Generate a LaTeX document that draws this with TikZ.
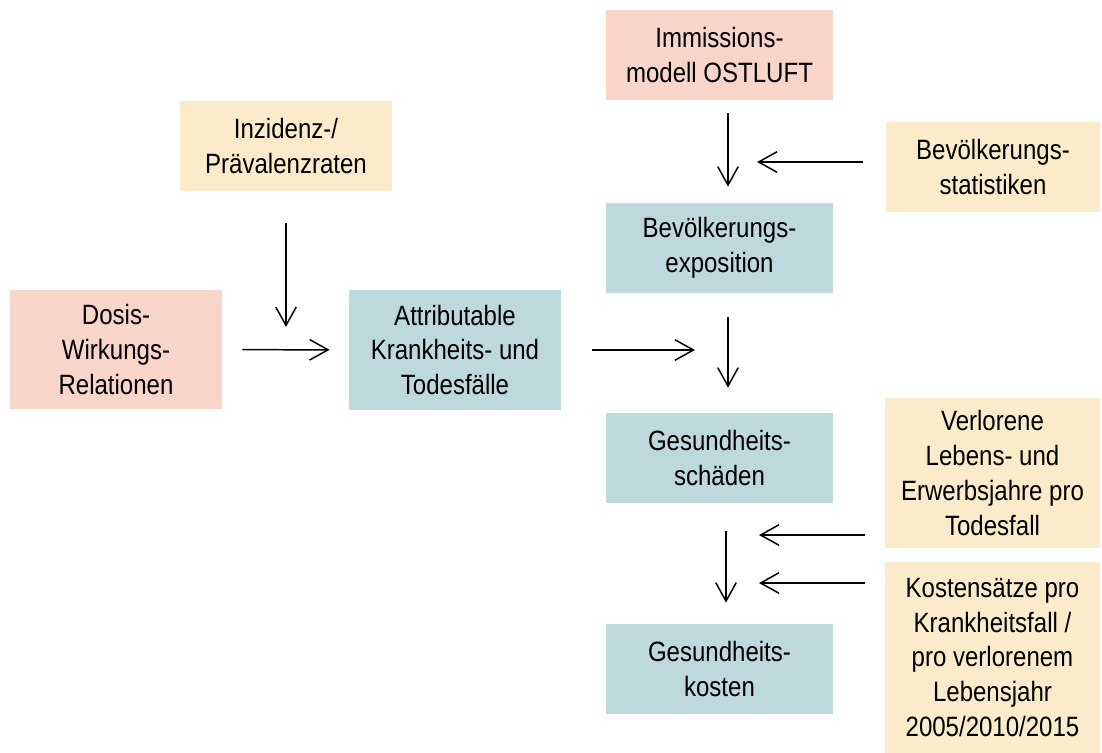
\documentclass[tikz,border=0pt]{standalone}
\usepackage{fontspec}
\setmainfont[FakeStretch=0.86]{Liberation Sans}
\usepackage{tikz}
\usetikzlibrary{arrows.meta,positioning,calc}
\definecolor{quelle}{HTML}{F8D5C9}
\definecolor{daten}{HTML}{FBEBCB}
\definecolor{ergebnis}{HTML}{BED9DD}

\begin{document}
\begin{tikzpicture}[
  box/.style={rectangle, inner sep=0pt, align=center, font=\fontsize{15.9}{19.9}\selectfont},
  modellbox/.style={box, fill=quelle},
  datenbox/.style={box, fill=daten},
  ergebnisbox/.style={box, fill=ergebnis},
  flow/.style={-{Straight Barb[length=3.7mm,width=4.1mm]}, line width=0.85pt}
]
\useasboundingbox (0,0) rectangle (22.04,-15.06);

% Inputs
\node[modellbox, minimum width=4.54cm, minimum height=1.80cm] (immis) at (14.39,-1.10) {Immissions-\\modell OSTLUFT};
\node[datenbox, minimum width=4.24cm, minimum height=1.80cm] (inz) at (5.72,-2.92) {Inzidenz-/\\Prävalenzraten};
\node[datenbox, minimum width=4.28cm, minimum height=1.80cm] (stat) at (19.86,-3.34) {Bevölkerungs-\\statistiken};
\node[modellbox, minimum width=4.24cm, minimum height=2.38cm] (dosis) at (2.32,-6.99) {Dosis-\\Wirkungs-\\Relationen};
\node[datenbox, minimum width=4.30cm, minimum height=3.00cm] (verl) at (19.85,-9.46) {Verlorene\\Lebens- und\\Erwerbsjahre pro\\Todesfall};
\node[datenbox, minimum width=4.30cm, minimum height=3.82cm] (kost) at (19.85,-13.15) {Kostensätze pro\\Krankheitsfall /\\pro verlorenem\\Lebensjahr\\2005/2010/2015};

% Results
\node[ergebnisbox, minimum width=4.54cm, minimum height=1.80cm] (expo) at (14.39,-4.96) {Bevölkerungs-\\exposition};
\node[ergebnisbox, minimum width=4.24cm, minimum height=2.40cm] (attrib) at (9.10,-7.00) {Attributable\\Krankheits- und\\Todesfälle};
\node[ergebnisbox, minimum width=4.54cm, minimum height=1.80cm] (schaeden) at (14.39,-9.16) {Gesundheits-\\schäden};
\node[ergebnisbox, minimum width=4.54cm, minimum height=1.80cm] (kosten) at (14.39,-13.38) {Gesundheits-\\kosten};

% Free arrow ends
\coordinate (statin) at (15.14,-3.24);
\coordinate (inzin) at (5.72,-6.54);
\coordinate (attribout) at (13.90,-7.00);
\coordinate (verlin) at (15.18,-10.70);
\coordinate (kostin) at (15.18,-11.66);

% Arrows
\draw[flow, shorten <=0.26cm, shorten >=0.32cm] ([xshift=0.17cm]immis.south) -- ([xshift=0.17cm]expo.north);
\draw[flow, shorten <=0.46cm] (stat.west |- statin) -- (statin);
\draw[flow, shorten <=0.64cm] (inz.south) -- (inzin);
\draw[flow, shorten <=0.40cm, shorten >=0.38cm] (dosis) -- (attrib);
\draw[flow, shorten <=0.62cm] (attrib.east) -- (attribout);
\draw[flow, shorten <=0.48cm, shorten >=0.50cm] ([xshift=0.17cm]expo.south) -- ([xshift=0.17cm]schaeden.north);
\draw[flow, shorten <=0.40cm] (verl.west |- verlin) -- (verlin);
\draw[flow, shorten <=0.40cm] (kost.west |- kostin) -- (kostin);
\draw[flow, shorten <=0.56cm, shorten >=0.42cm] ([xshift=0.13cm]schaeden.south) -- ([xshift=0.13cm]kosten.north);

\end{tikzpicture}
\end{document}
